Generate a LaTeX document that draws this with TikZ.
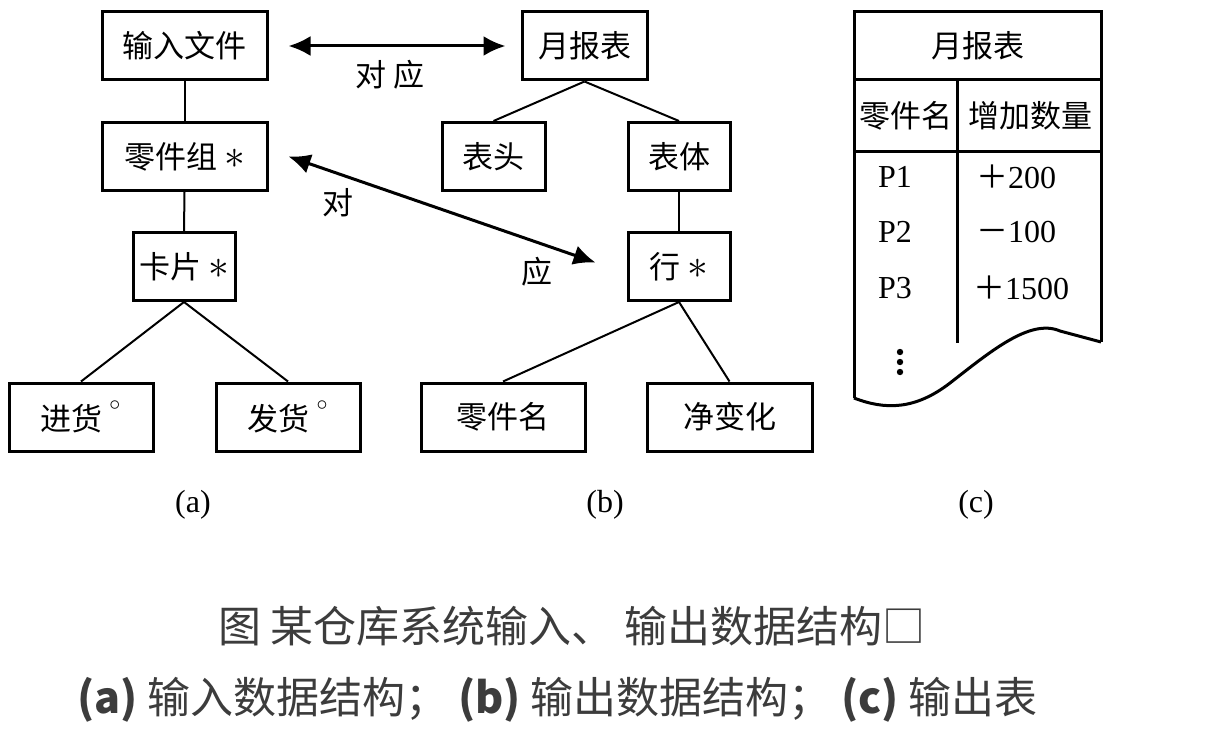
\documentclass[tikz,border=0pt]{standalone}
\usepackage{fontspec}
\setmainfont{Liberation Serif}
\newfontfamily\cjk{Noto Sans CJK SC}
\usetikzlibrary{arrows.meta}
\definecolor{capgray}{HTML}{3C3C3C}
\newcommand{\bigast}{{\fontsize{20}{20}\selectfont$\ast$}}
\newcommand{\degmark}{\raisebox{0.55ex}{$^{\circ}$}}
\tikzset{
  box/.style={draw, line width=1.5pt, minimum height=34pt, inner sep=0pt, font=\cjk\fontsize{15.5}{18}\selectfont},
  link/.style={line width=1pt},
  pair/.style={{Latex[length=11pt,width=10pt]}-{Latex[length=11pt,width=10pt]}, line width=1.5pt},
  lab/.style={font=\cjk\fontsize{15.5}{18}\selectfont},
  num/.style={font=\fontsize{16}{18}\selectfont},
}
\begin{document}
\begin{tikzpicture}[x=0.5pt, y=-0.5pt]
    \useasboundingbox (0,0) rectangle (1214,749);

    % Define nodes of (a)
    \node[box, minimum width=82.5pt] (srwj) at (184.5,46) {输入文件};
    \node[box, minimum width=82.5pt] (ljz) at (184.5,156.5) {零件组 \bigast};
    \node[box, minimum width=51pt] (kp) at (184,266.5) {卡片 \bigast};
    \node[box, minimum width=72pt] (jh) at (81,417) {进货~\degmark};
    \node[box, minimum width=72pt] (fh) at (288,417) {发货~\degmark};

    % Define nodes of (b)
    \node[box, minimum width=62.5pt] (ybb) at (584.5,46) {月报表};
    \node[box, minimum width=51.5pt] (bt) at (493.5,156.5) {表头};
    \node[box, minimum width=51pt] (bti) at (679,156.5) {表体};
    \node[box, minimum width=51pt] (hang) at (679,266.5) {行 \bigast};
    \node[box, minimum width=82pt] (ljm) at (503,417) {零件名};
    \node[box, minimum width=82.5pt] (jbh) at (729.5,417) {净变化};

    % Draw tree lines
    \draw[link] (srwj.south) -- (ljz.north);
    \draw[link] (ljz.south) -- (kp.north);
    \draw[link] (kp.south) -- (jh.north);
    \draw[link] (kp.south) -- (fh.north);
    \draw[link] (ybb.south) -- (bt.north);
    \draw[link] (ybb.south) -- (bti.north);
    \draw[link] (bti.south) -- (hang.north);
    \draw[link] (hang.south) -- (ljm.north);
    \draw[link] (hang.south) -- (jbh.north);

    % Draw correspondence arrows
    \draw[pair] ([xshift=10pt]srwj.east) -- ([xshift=-7.5pt]ybb.west);
    \draw[pair] ([xshift=10pt]ljz.east) -- ([xshift=-15.5pt,yshift=2pt]hang.west);
    \node[lab] (dy1) at (390,75) {对 应};
    \node[lab] (dy2) at (338,203) {对};
    \node[lab] (dy3) at (537,272) {应};

    % Draw table (c)
    \draw[line width=1.5pt] (854,398) -- (854,12) -- (1101,12) -- (1101,342);
    \draw[line width=1.5pt] (854,80) -- (1101,80);
    \draw[line width=1.5pt] (854,151) -- (1101,151);
    \draw[line width=1.5pt] (957,80) -- (957,343);
    \draw[line width=1.5pt] (854,398) .. controls (885,410) and (915,410) .. (950,383)
        .. controls (990,352) and (1030,318) .. (1060,331) -- (1101,342);
    \node[lab] (tt) at (978,46) {月报表};
    \node[lab] (h1) at (906,116) {零件名};
    \node[lab] (h2) at (1030,116) {增加数量};
    \node[num] (p1) at (895,177) {P1};
    \node[num] (v1) at (1016,177) {{\cjk ＋}200};
    \node[num] (p2) at (895,232) {P2};
    \node[num] (v2) at (1016,232) {{\cjk －}100};
    \node[num] (p3) at (895,288) {P3};
    \node[num] (v3) at (1021,288) {{\cjk ＋}1500};
    \foreach \y in {352,362,372}
        \fill (900,\y) circle (1.6pt);

    % Add sub labels
    \node[num] (la) at (193,505) {(a)};
    \node[num] (lb) at (605,505) {(b)};
    \node[num] (lc) at (976,505) {(c)};

    % Add caption
    \node[text=capgray, font=\cjk\fontsize{21.5}{24}\selectfont] (cap1) at (572,626)
        {图 某仓库系统输入、 输出数据结构□};
    \node[text=capgray, font=\cjk\fontsize{21.5}{24}\selectfont] (cap2) at (557.5,700)
        {\textbf{(a)} 输入数据结构； \textbf{(b)} 输出数据结构； \textbf{(c)} 输出表};
\end{tikzpicture}
\end{document}
